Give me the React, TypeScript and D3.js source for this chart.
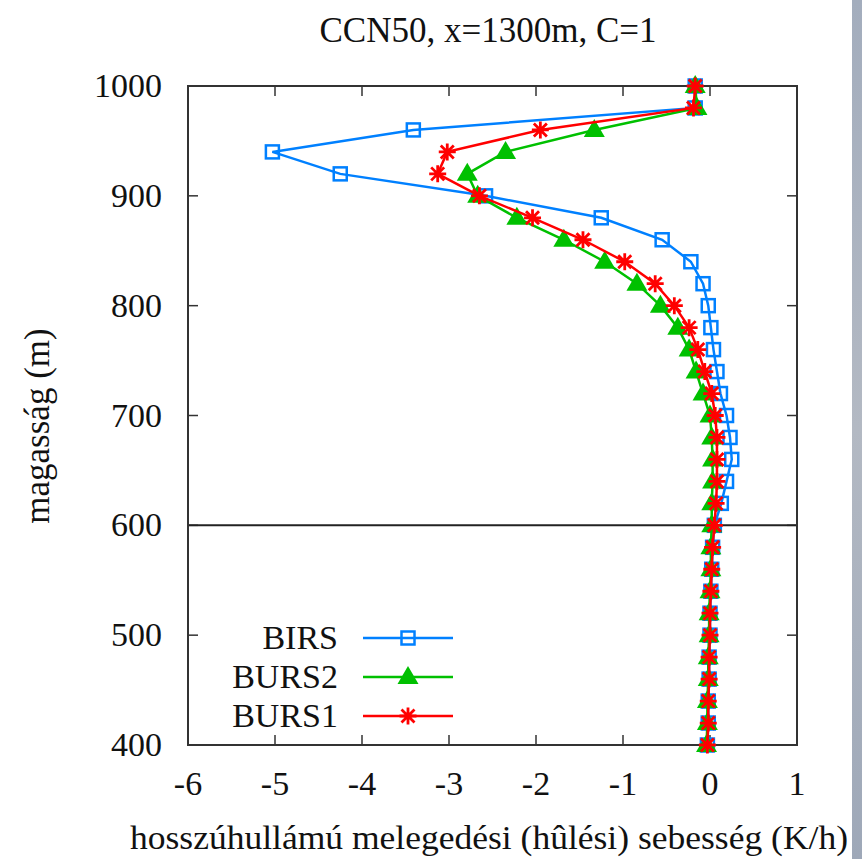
import { useRef, useEffect } from "react";
import * as d3 from "d3";

const heights: number[] = [
    400, 420, 440, 460, 480, 500, 520, 540, 560, 580, 600, 620, 640, 660, 680,
    700, 720, 740, 760, 780, 800, 820, 840, 860, 880, 900, 920, 940, 960, 980,
    1000,
];

const birs: number[] = [
    -0.03, -0.02, -0.02, -0.01, -0.01, 0.0, 0.0, 0.01, 0.02, 0.03, 0.05, 0.13,
    0.19, 0.25, 0.23, 0.19, 0.12, 0.08, 0.04, 0.01, -0.02, -0.08, -0.22, -0.55,
    -1.25, -2.58, -4.25, -5.03, -3.41, -0.17, -0.17,
];

const burs2: number[] = [
    -0.04, -0.03, -0.03, -0.02, -0.02, -0.01, -0.01, 0.0, 0.01, 0.01, 0.02,
    0.02, 0.03, 0.03, 0.02, 0.0, -0.08, -0.16, -0.24, -0.37, -0.57, -0.84,
    -1.21, -1.68, -2.22, -2.67, -2.79, -2.35, -1.33, -0.15, -0.17,
];

const burs1: number[] = [
    -0.03, -0.02, -0.02, -0.01, -0.01, 0.0, 0.0, 0.01, 0.02, 0.03, 0.05, 0.07,
    0.08, 0.08, 0.08, 0.06, 0.02, -0.06, -0.14, -0.24, -0.41, -0.63, -0.98,
    -1.46, -2.04, -2.65, -3.13, -3.02, -1.95, -0.19, -0.17,
];

const xTicks: number[] = [-6, -5, -4, -3, -2, -1, 0, 1];
const yTicks: number[] = [400, 500, 600, 700, 800, 900, 1000];

const seriesNames = ["BIRS", "BURS2", "BURS1"];
const seriesColors = ["#0080ff", "#00c000", "#ff0000"];
const seriesShapes = ["square", "triangle", "star"];
const seriesValues = [birs, burs2, burs1];

const title = "CCN50, x=1300m, C=1";
const xLabel = "hosszúhullámú melegedési (hûlési) sebesség (K/h)";
const yLabel = "magasság (m)";

const FONT = "'Liberation Serif', 'Times New Roman', serif";

const App: React.FC = () => {
    const svgRef = useRef<SVGSVGElement | null>(null);

    useEffect(() => {
        if (!svgRef.current) return;
        const width = 862;
        const height = 859;
        const left = 188;
        const right = 797;
        const top = 86;
        const bottom = 745;

        const x = d3.scaleLinear().domain([-6, 1]).range([left, right]);
        const y = d3.scaleLinear().domain([400, 1000]).range([bottom, top]);

        const svg = d3.select(svgRef.current);
        svg.selectAll("*").remove();
        svg.attr("width", width).attr("height", height);

        svg.append("rect")
            .attr("width", width)
            .attr("height", height)
            .attr("fill", "#fff");

        // grey strip at the right edge
        const grad = svg
            .append("defs")
            .append("linearGradient")
            .attr("id", "edge")
            .attr("x1", 0)
            .attr("y1", 0)
            .attr("x2", 0)
            .attr("y2", 1);
        grad.append("stop").attr("offset", "0%").attr("stop-color", "#a3adbd");
        grad.append("stop").attr("offset", "50%").attr("stop-color", "#b3b9c3");
        grad.append("stop").attr("offset", "100%").attr("stop-color", "#9ea8b8");
        svg.append("rect")
            .attr("x", 852)
            .attr("width", 10)
            .attr("height", height)
            .attr("fill", "url(#edge)");

        const axisColor = "#333";
        const tickLen = 10;

        // ticks
        const g = svg.append("g").attr("stroke", axisColor).attr("stroke-width", 1.5);
        xTicks.forEach((t) => {
            g.append("line")
                .attr("x1", x(t)).attr("x2", x(t))
                .attr("y1", bottom).attr("y2", bottom - tickLen);
            g.append("line")
                .attr("x1", x(t)).attr("x2", x(t))
                .attr("y1", top).attr("y2", top + tickLen);
        });
        yTicks.forEach((t) => {
            g.append("line")
                .attr("x1", left).attr("x2", left + tickLen)
                .attr("y1", y(t)).attr("y2", y(t));
            g.append("line")
                .attr("x1", right).attr("x2", right - tickLen)
                .attr("y1", y(t)).attr("y2", y(t));
        });

        // line at 600 m
        svg.append("line")
            .attr("x1", left).attr("x2", right)
            .attr("y1", y(600)).attr("y2", y(600))
            .attr("stroke", "#222")
            .attr("stroke-width", 2);

        svg.append("rect")
            .attr("x", left)
            .attr("y", top)
            .attr("width", right - left)
            .attr("height", bottom - top)
            .attr("fill", "none")
            .attr("stroke", axisColor)
            .attr("stroke-width", 2);

        const text = svg.append("g")
            .attr("font-family", FONT)
            .attr("fill", "#111");

        text.selectAll(".xt")
            .data(xTicks)
            .join("text")
            .attr("x", (d) => x(d))
            .attr("y", 795)
            .attr("text-anchor", "middle")
            .attr("font-size", 34)
            .text((d) => String(d));

        text.selectAll(".yt")
            .data(yTicks)
            .join("text")
            .attr("x", 162)
            .attr("y", (d) => y(d) + 11)
            .attr("text-anchor", "end")
            .attr("font-size", 34)
            .text((d) => String(d));

        text.append("text")
            .attr("x", 488)
            .attr("y", 42)
            .attr("text-anchor", "middle")
            .attr("font-size", 35)
            .text(title);

        text.append("text")
            .attr("x", 130)
            .attr("y", 849)
            .attr("font-size", 34)
            .attr("textLength", 718)
            .attr("lengthAdjust", "spacingAndGlyphs")
            .text(xLabel);

        text.append("text")
            .attr("transform", "translate(49,426) rotate(-90)")
            .attr("text-anchor", "middle")
            .attr("font-size", 35)
            .text(yLabel);

        const drawMarker = (
            sel: d3.Selection<SVGGElement, unknown, null, undefined>,
            shape: string,
            color: string,
            cx: number,
            cy: number,
        ) => {
            if (shape === "square") {
                sel.append("rect")
                    .attr("x", cx - 6.5)
                    .attr("y", cy - 6.5)
                    .attr("width", 13)
                    .attr("height", 13)
                    .attr("fill", "none")
                    .attr("stroke", color)
                    .attr("stroke-width", 2.5);
            } else if (shape === "triangle") {
                sel.append("path")
                    .attr("d", `M${cx},${cy - 11}L${cx - 10.5},${cy + 7}L${cx + 10.5},${cy + 7}Z`)
                    .attr("fill", color);
            } else {
                const s = 8.5;
                const d = 6.5;
                sel.append("path")
                    .attr(
                        "d",
                        `M${cx - s},${cy}L${cx + s},${cy}M${cx},${cy - s}L${cx},${cy + s}` +
                            `M${cx - d},${cy - d}L${cx + d},${cy + d}M${cx - d},${cy + d}L${cx + d},${cy - d}`,
                    )
                    .attr("fill", "none")
                    .attr("stroke", color)
                    .attr("stroke-width", 2.8);
            }
        };

        const line = d3
            .line<number>()
            .x((d) => x(d))
            .y((_d, i) => y(heights[i]));

        seriesValues.forEach((vals, k) => {
            const sg = svg.append("g") as d3.Selection<SVGGElement, unknown, null, undefined>;
            sg.append("path")
                .attr("d", line(vals))
                .attr("fill", "none")
                .attr("stroke", seriesColors[k])
                .attr("stroke-width", 2.5);
            vals.forEach((v, i) => {
                drawMarker(sg, seriesShapes[k], seriesColors[k], x(v), y(heights[i]));
            });
        });

        // legend
        const legend = svg.append("g") as d3.Selection<SVGGElement, unknown, null, undefined>;
        seriesNames.forEach((name, k) => {
            const ly = 638 + k * 39;
            legend.append("text")
                .attr("x", 338)
                .attr("y", ly + 11)
                .attr("text-anchor", "end")
                .attr("font-family", FONT)
                .attr("font-size", 34)
                .attr("fill", "#111")
                .text(name);
            legend.append("line")
                .attr("x1", 363)
                .attr("x2", 453)
                .attr("y1", ly)
                .attr("y2", ly)
                .attr("stroke", seriesColors[k])
                .attr("stroke-width", 2.5);
            drawMarker(legend, seriesShapes[k], seriesColors[k], 408, ly);
        });
    }, []);

    return (
        <svg
            ref={svgRef}
            style={{ position: "absolute", left: 0, top: 0, display: "block" }}
        />
    );
};

export default App;
